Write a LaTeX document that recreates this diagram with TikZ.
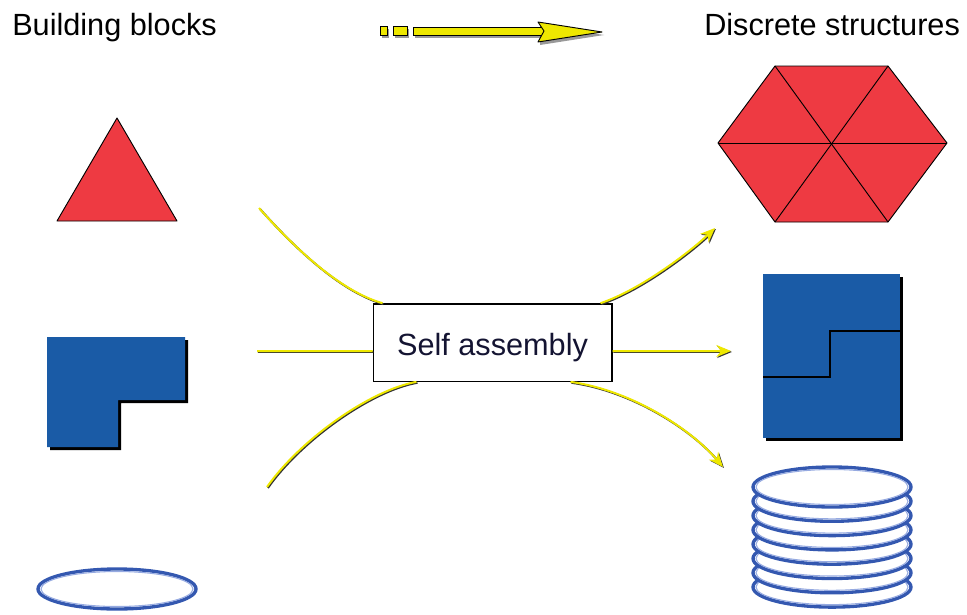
\documentclass[tikz,border=0pt]{standalone}
\usepackage{fontspec}
\setmainfont{Liberation Sans}
\usetikzlibrary{arrows.meta}
\definecolor{redfill}{RGB}{238,58,66}
\definecolor{bluefill}{RGB}{26,91,166}
\definecolor{ringblue}{RGB}{52,88,176}
\definecolor{ringlight}{RGB}{150,170,225}
\definecolor{arrowyellow}{RGB}{238,232,0}
\definecolor{txtnavy}{RGB}{20,20,50}
\tikzset{
  title/.style={font=\fontsize{23}{28}\selectfont, inner sep=0pt},
  yline/.style={draw=arrowyellow, line width=1.5pt,
    -{Stealth[length=11pt,width=9pt,fill=arrowyellow]}},
  ylinenotip/.style={draw=arrowyellow, line width=1.5pt},
  yshadow/.style={draw=black!80, line width=1.5pt,
    transform canvas={shift={(0.7pt,-0.7pt)}},
    -{Stealth[length=11pt,width=9pt,fill=black!80]}},
  yshadownotip/.style={draw=black!80, line width=1.5pt,
    transform canvas={shift={(0.7pt,-0.7pt)}}},
  ring/.style={draw=ringblue, line width=2.5pt, fill=white},
  ringin/.style={draw=ringlight, line width=0.8pt},
  blockshadow/.style={fill=black},
  blockfill/.style={fill=bluefill},
  redshape/.style={fill=redfill, draw=black, line width=0.7pt, line join=round},
  sabox/.style={draw=black, line width=1pt, fill=white, minimum width=179pt,
    minimum height=58pt, inner sep=0pt, font=\fontsize{23}{28}\selectfont,
    text=txtnavy, text height=20pt, text depth=0pt}
}
\begin{document}
\begin{tikzpicture}[x=0.75pt,y=-0.75pt]
\useasboundingbox (0,0) rectangle (967,614);

% titles
\node[title, anchor=base west] (bb) at (12,36) {Building blocks};
\node[title, anchor=base west] (ds) at (704,36) {Discrete structures};

% top decorative arrow
\fill[black!40] (382,29) rectangle (389,38);
\fill[black!40] (395,29) rectangle (409,38);
\fill[black!40] (415,30) rectangle (547,38);
\fill[black!40] (540,25) -- (604,35) -- (540,45) -- cycle;
\filldraw[fill=arrowyellow, draw=black, line width=0.7pt] (380,26) rectangle (387,35);
\filldraw[fill=arrowyellow, draw=black, line width=0.7pt] (393,26) rectangle (407,35);
\filldraw[fill=arrowyellow, draw=black, line width=0.7pt] (413,27) rectangle (545,35);
\filldraw[fill=arrowyellow, draw=black, line width=0.7pt, line join=round] (538,22) -- (602,32) -- (538,42) -- (544,31) -- cycle;

% triangle
\path[redshape] (117,118) -- (177,221) -- (57,221) -- cycle;

% L shape
\path[blockshadow] (50,340) -- (188,340) -- (188,403) -- (121,403) -- (121,450) -- (50,450) -- cycle;
\path[blockfill] (47,337) -- (185,337) -- (185,400) -- (118,400) -- (118,447) -- (47,447) -- cycle;

% single ring
\draw[ring] (117,589) ellipse [x radius=79, y radius=20];
\draw[ringin] (117,589) ellipse [x radius=76, y radius=17.5];

% hexagon
\path[redshape] (718,143) -- (775,66) -- (888,66) -- (947,143) -- (888,222) -- (775,222) -- cycle;
\draw[black, line width=0.7pt] (718,143) -- (947,143);
\draw[black, line width=0.7pt] (775,66) -- (888,222);
\draw[black, line width=0.7pt] (888,66) -- (775,222);

% blue square
\path[blockshadow] (766,277) rectangle (903,441);
\path[blockfill] (763,274) rectangle (900,438);
\draw[black, line width=1.1pt] (763,377) -- (830,377) -- (830,331) -- (900,331);

% stack of rings
\foreach \i in {7,6,...,0} {
  \draw[ring] (832,{487+14.3*\i}) ellipse [x radius=79, y radius=20];
  \draw[ringin] (832,{487+14.3*\i}) ellipse [x radius=76, y radius=17.5];
}

% box
\node[sabox] (sa) at (492.5,342.5) {Self assembly};

% connector ends
\coordinate (inU) at (259,208);
\coordinate (inM) at (257,351);
\coordinate (inL) at (267,487);
\coordinate (outU) at (715,228);
\coordinate (outM) at (731,351);
\coordinate (outL) at (723,467);
\coordinate (bUL) at ([xshift=7.5pt]sa.north west);
\coordinate (bUR) at ([xshift=-9pt]sa.north east);
\coordinate (bML) at ([yshift=-6.4pt]sa.west);
\coordinate (bMR) at ([yshift=-6.4pt]sa.east);
\coordinate (bLL) at ([xshift=33pt]sa.south west);
\coordinate (bLR) at ([xshift=-31.5pt]sa.south east);

% connectors: shadow then yellow
\foreach \s/\t in {yshadownotip/yshadow, ylinenotip/yline} {
  \draw[\s] (inU) .. controls (299,253) and (343,292) .. (bUL);
  \draw[\s] (inM) -- (bML);
  \draw[\s] (inL) .. controls (300,440) and (370,390) .. (bLL);
  \draw[\t] (bUR) .. controls (640,290) and (690,252) .. (outU);
  \draw[\t] (bMR) -- (outM);
  \draw[\t] (bLR) .. controls (630,390) and (690,428) .. (outL);
}
\end{tikzpicture}
\end{document}
